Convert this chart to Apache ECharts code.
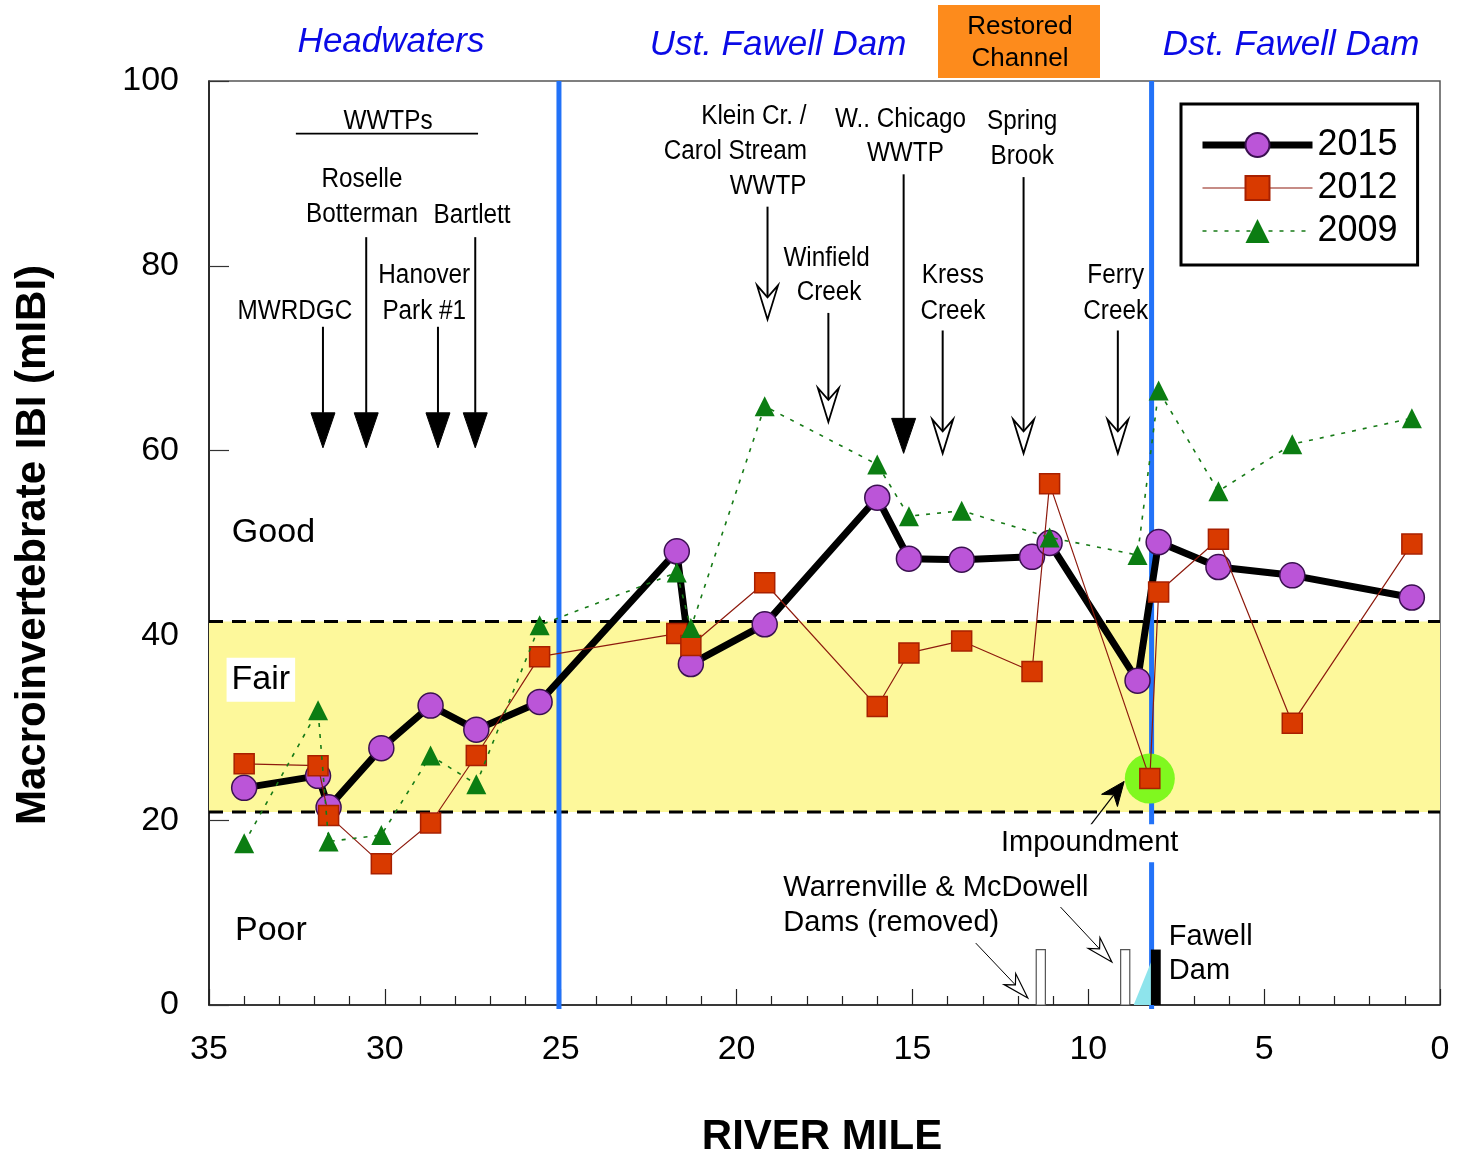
<!DOCTYPE html>
<html>
<head>
<meta charset="utf-8">
<script src="https://cdn.jsdelivr.net/npm/echarts@6/dist/echarts.min.js"></script>
<style>
  html, body { margin: 0; padding: 0; background: #fff; }
  #chart { width: 1458px; height: 1156px; }
</style>
</head>
<body>
<div id="chart"></div>
<script>
// ---- Sampling results: river mile and macroinvertebrate IBI per survey year ----
const miles2015 = [34.0, 31.9, 31.6, 30.1, 28.7, 27.4, 25.6, 21.7, 21.3, 19.2, 16.0, 15.1, 13.6, 11.6, 11.1, 8.6, 8.0, 6.3, 4.2, 0.8];
const ibi2015   = [23.5, 24.8, 21.4, 27.8, 32.4, 29.8, 32.8, 49.1, 36.9, 41.2, 54.9, 48.3, 48.2, 48.5, 50.0, 35.1, 50.1, 47.4, 46.5, 44.1];

const miles2012 = [34.0, 31.9, 31.6, 30.1, 28.7, 27.4, 25.6, 21.7, 21.3, 19.2, 16.0, 15.1, 13.6, 11.6, 11.1, 8.25, 8.0, 6.3, 4.2, 0.8];
const ibi2012   = [26.1, 25.9, 20.5, 15.3, 19.7, 27.0, 37.7, 40.2, 38.9, 45.7, 32.3, 38.1, 39.4, 36.1, 56.4, 24.5, 44.7, 50.4, 30.5, 49.9];

const miles2009 = [34.0, 31.9, 31.6, 30.1, 28.7, 27.4, 25.6, 21.7, 21.3, 19.2, 16.0, 15.1, 13.6, 11.1, 8.6, 8.0, 6.3, 4.2, 0.8];
const ibi2009   = [17.5, 31.9, 17.7, 18.4, 27.0, 23.9, 41.1, 46.8, 40.8, 64.8, 58.5, 52.9, 53.5, 50.6, 48.7, 66.5, 55.6, 60.7, 63.5];

const seriesNames = ['2015', '2012', '2009'];

// Narrative thresholds: Poor < 20.9 <= Fair < 41.5 <= Good
const fairBand = [20.9, 41.5];
const narrativeLabels = ['Good', 'Fair', 'Poor'];

// Reach boundaries (river mile): Headwaters | Ust. Fawell Dam | Dst. Fawell Dam
const reachBreaks = [25.05, 8.2];
const reachNames = ['Headwaters', 'Ust. Fawell Dam', 'Dst. Fawell Dam'];

// Dams (river mile)
const removedDams = [11.35, 8.95];
const fawellDamMile = 8.08;
const impoundmentSite = [8.25, 24.5];

// Axis ticks
const xTicks = { min: 0, max: 35, step: 5 };
const yTicks = { min: 0, max: 100, step: 20 };

// Inflows: [river mile, label bottom, arrow tip (IBI units), filled = WWTP outfall]
const inflowArrows = [
  [31.76, 73.4, 60.3, true],
  [30.53, 83.1, 60.3, true],
  [28.49, 73.4, 60.3, true],
  [27.43, 83.1, 60.3, true],
  [19.12, 86.4, 74.2, false],
  [17.39, 74.9, 63.1, false],
  [15.25, 89.9, 59.7, true],
  [14.14, 73.0, 59.7, false],
  [11.84, 89.6, 59.7, false],
  [9.16, 73.0, 59.7, false]
];

// Inflow names: [text, river mile, IBI, alignment]
const inflowLabels = [
  ['WWTPs', 29.91, 95.6, 'center'],
  ['Roselle', 30.65, 89.3, 'center'],
  ['Botterman', 30.65, 85.6, 'center'],
  ['Bartlett', 27.52, 85.4, 'center'],
  ['Hanover', 28.88, 78.9, 'center'],
  ['Park #1', 28.88, 75.1, 'center'],
  ['MWRDGC', 32.56, 75.0, 'center'],
  ['Klein Cr. /', 18.01, 96.2, 'right'],
  ['Carol Stream', 18.0, 92.4, 'right'],
  ['WWTP', 18.01, 88.6, 'right'],
  ['Winfield', 17.44, 80.8, 'center'],
  ['Creek', 17.37, 77.1, 'center'],
  ['W.. Chicago', 15.34, 95.8, 'center'],
  ['WWTP', 15.2, 92.1, 'center'],
  ['Kress', 13.85, 78.9, 'center'],
  ['Creek', 13.85, 75.1, 'center'],
  ['Spring', 11.88, 95.6, 'center'],
  ['Brook', 11.88, 91.8, 'center'],
  ['Ferry', 9.22, 78.9, 'center'],
  ['Creek', 9.22, 75.1, 'center']
];

const FONT = '"Liberation Sans", Arial, Helvetica, sans-serif';
const font = (size, extra) => (extra ? extra + ' ' : '') + size + 'px ' + FONT;

const pairs = (xs, ys) => xs.map((x, i) => [x, ys[i]]);

function textEl(p, text, size, align, opts) {
  opts = opts || {};
  const style = {
    text: text, font: font(size, opts.weight), fill: opts.fill || '#000',
    align: align, verticalAlign: 'middle', textAlign: align, textVerticalAlign: 'middle'
  };
  if (opts.bg) { style.backgroundColor = opts.bg; style.padding = opts.pad; }
  return { type: 'text', x: p[0], y: p[1], scaleX: opts.scaleX || 1, z2: opts.z2 || 20, style: style };
}

// Arrow from p0 to tip p1; head length, half width, notch depth in pixels
function arrowEls(p0, p1, len, halfW, notch, filled, shaftW, headW) {
  const dx = p1[0] - p0[0], dy = p1[1] - p0[1];
  const L = Math.hypot(dx, dy), ux = dx / L, uy = dy / L, nx = -uy, ny = ux;
  const bx = p1[0] - ux * len, by = p1[1] - uy * len;
  const nxp = p1[0] - ux * (len - notch), nyp = p1[1] - uy * (len - notch);
  return [
    { type: 'line', z2: 15, shape: { x1: p0[0], y1: p0[1], x2: nxp, y2: nyp },
      style: { stroke: '#000', lineWidth: shaftW } },
    { type: 'polygon', z2: 16,
      shape: { points: [[p1[0], p1[1]], [bx + nx * halfW, by + ny * halfW], [nxp, nyp], [bx - nx * halfW, by - ny * halfW]] },
      style: { fill: filled ? '#000' : '#fff', stroke: '#000', lineWidth: headW, lineJoin: 'miter' } }
  ];
}

function renderOverlay(params, api) {
  const c = (m, v) => api.coord([m, v]);
  const kids = [];

  // Fair band and threshold lines
  const tl = c(xTicks.max, fairBand[1]), br = c(xTicks.min, fairBand[0]);
  kids.push({ type: 'rect', z2: 1, shape: { x: tl[0], y: tl[1], width: br[0] - tl[0], height: br[1] - tl[1] },
    style: { fill: '#fdf89b' } });
  fairBand.forEach(v => {
    const a = c(xTicks.max, v), b = c(xTicks.min, v);
    kids.push({ type: 'line', z2: 3, shape: { x1: a[0], y1: a[1], x2: b[0], y2: b[1] },
      style: { stroke: '#000', lineWidth: 3, lineDash: [14, 9] } });
  });

  // Reach boundaries
  reachBreaks.forEach(m => {
    const a = c(m, yTicks.max), b = c(m, yTicks.min);
    kids.push({ type: 'line', z2: 5, shape: { x1: a[0], y1: a[1], x2: b[0], y2: b[1] + 4 },
      style: { stroke: '#2272f8', lineWidth: 5 } });
  });

  // Fawell Dam impoundment wedge and dam
  kids.push({ type: 'polygon', z2: 6, shape: { points: [c(8.71, 0), c(8.2, 0), c(8.2, 4.8)] },
    style: { fill: '#8ee4ec' } });
  const d0 = c(fawellDamMile + 0.14, 6), d1 = c(fawellDamMile - 0.14, 0);
  kids.push({ type: 'rect', z2: 7, shape: { x: d0[0], y: d0[1], width: d1[0] - d0[0], height: d1[1] - d0[1] },
    style: { fill: '#000' } });

  // Removed dams
  removedDams.forEach(m => {
    const r0 = c(m + 0.13, 6), r1 = c(m - 0.13, 0);
    kids.push({ type: 'rect', z2: 7, shape: { x: r0[0], y: r0[1], width: r1[0] - r0[0], height: r1[1] - r0[1] },
      style: { fill: '#fff', stroke: '#555', lineWidth: 1.2 } });
  });

  // Impoundment highlight
  const hp = c(impoundmentSite[0], impoundmentSite[1]);
  kids.push({ type: 'circle', z2: 8, shape: { cx: hp[0], cy: hp[1], r: 25 }, style: { fill: '#80f81f' } });

  // Inflow arrows
  inflowArrows.forEach(a => {
    const p0 = c(a[0], a[1]), p1 = c(a[0], a[2]);
    const els = a[3] ? arrowEls(p0, p1, 35, 12, 0, true, 2, 1) : arrowEls(p0, p1, 34, 10.5, 12, false, 2, 1.8);
    els.forEach(e => kids.push(e));
  });

  // WWTP heading underline
  const u0 = c(32.53, 94.3), u1 = c(27.35, 94.3);
  kids.push({ type: 'line', z2: 15, shape: { x1: u0[0], y1: u0[1], x2: u1[0], y2: u1[1] },
    style: { stroke: '#000', lineWidth: 1.8 } });

  inflowLabels.forEach(l => {
    kids.push(textEl(c(l[1], l[2]), l[0], 27, l[3], { scaleX: 0.9 }));
  });

  // Removed-dam pointers and impoundment pointer
  arrowEls(c(13.2, 6.7), c(11.72, 0.76), 26, 8, 8, false, 1, 1.2).forEach(e => kids.push(e));
  arrowEls(c(10.79, 10.6), c(9.33, 4.65), 26, 8, 8, false, 1, 1.2).forEach(e => kids.push(e));
  arrowEls(c(9.93, 19.5), c(8.98, 24.2), 24, 10, 7, true, 1.2, 1).forEach(e => kids.push(e));

  // Narrative labels
  kids.push(textEl(c(34.35, 51.1), narrativeLabels[0], 34, 'left'));
  kids.push(textEl(c(34.5, 35.2), narrativeLabels[1], 34, 'left', { bg: '#fff', pad: [6, 5, 4, 5] }));
  kids.push(textEl(c(34.26, 8.0), narrativeLabels[2], 34, 'left'));

  // Dam notes
  kids.push(textEl(c(9.96, 17.5), 'Impoundment', 29, 'center', { bg: '#fff', pad: [5, 4, 4, 4], z2: 30 }));
  kids.push(textEl(c(18.67, 12.7), 'Warrenville & McDowell', 29, 'left'));
  kids.push(textEl(c(18.67, 8.9), 'Dams (removed)', 29, 'left'));
  kids.push(textEl(c(7.71, 7.4), 'Fawell', 29, 'left'));
  kids.push(textEl(c(7.71, 3.7), 'Dam', 29, 'left'));

  return { type: 'group', children: kids };
}

const chart = echarts.init(document.getElementById('chart'), null, { renderer: 'canvas' });

const centered = { align: 'center', verticalAlign: 'middle', textAlign: 'center', textVerticalAlign: 'middle' };

const option = {
  animation: false,
  backgroundColor: '#fff',
  textStyle: { fontFamily: FONT },
  grid: {
    left: 209, right: 18, top: 81, bottom: 151,
    show: true, borderColor: '#555', borderWidth: 1.5,
    containLabel: false, outerBoundsMode: 'none'
  },
  xAxis: {
    type: 'value', min: xTicks.min, max: xTicks.max, interval: xTicks.step, inverse: true,
    axisLine: { show: true, onZero: false, lineStyle: { color: '#222', width: 1.5 } },
    axisTick: { show: true, inside: true, length: 16, lineStyle: { color: '#222', width: 1.2 } },
    minorTick: { show: true, splitNumber: 5, length: 9, lineStyle: { color: '#222', width: 1.2 } },
    axisLabel: { fontSize: 34, color: '#000', margin: 28, fontFamily: FONT },
    splitLine: { show: false }, minorSplitLine: { show: false }
  },
  yAxis: {
    type: 'value', min: yTicks.min, max: yTicks.max, interval: yTicks.step,
    axisLine: { show: true, onZero: false, lineStyle: { color: '#111', width: 1.5 } },
    axisTick: { show: true, inside: true, length: 20, lineStyle: { color: '#333', width: 1.2 } },
    axisLabel: { fontSize: 34, color: '#000', margin: 30, fontFamily: FONT },
    splitLine: { show: false }
  },
  legend: {
    orient: 'vertical', left: 1181, top: 104,
    data: seriesNames, selectedMode: false,
    itemWidth: 110, itemHeight: 30, itemGap: 7,
    padding: [23, 20, 16, 18],
    borderColor: '#000', borderWidth: 3, backgroundColor: '#fff',
    lineStyle: { width: 'inherit' },
    textStyle: { fontSize: 36, color: '#000', fontFamily: FONT, lineHeight: 30, height: 30 }
  },
  graphic: [
    { type: 'text', x: 391, y: 42, style: Object.assign({ text: reachNames[0], font: font(35, 'italic'), fill: '#0a0ae6' }, centered) },
    { type: 'text', x: 778, y: 45, style: Object.assign({ text: reachNames[1], font: font(35, 'italic'), fill: '#0a0ae6' }, centered) },
    { type: 'text', x: 1291, y: 45, style: Object.assign({ text: reachNames[2], font: font(35, 'italic'), fill: '#0a0ae6' }, centered) },
    { type: 'rect', shape: { x: 938, y: 5, width: 162, height: 73 }, style: { fill: '#fd8b1c' } },
    { type: 'text', x: 1020, y: 27, style: Object.assign({ text: 'Restored', font: font(26), fill: '#000' }, centered) },
    { type: 'text', x: 1020, y: 59, style: Object.assign({ text: 'Channel', font: font(26), fill: '#000' }, centered) },
    { type: 'text', x: 33, y: 545, rotation: Math.PI / 2, style: Object.assign({ text: 'Macroinvertebrate IBI (mIBI)', font: font(42, 'bold'), fill: '#000' }, centered) },
    { type: 'text', x: 822, y: 1137, style: Object.assign({ text: 'RIVER MILE', font: font(42, 'bold'), fill: '#000' }, centered) }
  ],
  series: [
    {
      name: 'overlay', type: 'custom', silent: true, clip: false, z: 1,
      data: [[0, 0]], renderItem: renderOverlay
    },
    {
      name: seriesNames[0], type: 'line', z: 3,
      data: pairs(miles2015, ibi2015),
      symbol: 'circle', symbolSize: 25,
      lineStyle: { color: '#000', width: 7 },
      itemStyle: { color: '#bb55d8', borderColor: '#3a1050', borderWidth: 1.5 }
    },
    {
      name: seriesNames[1], type: 'line', z: 4,
      data: pairs(miles2012, ibi2012),
      symbol: 'rect', symbolSize: 20,
      lineStyle: { color: '#8e1b0e', width: 1.2 },
      itemStyle: { color: '#d93a00', borderColor: '#a82000', borderWidth: 1.5 }
    },
    {
      name: seriesNames[2], type: 'line', z: 5,
      data: pairs(miles2009, ibi2009),
      symbol: 'triangle', symbolSize: 20,
      lineStyle: { color: '#167a16', width: 1.6, type: [4, 7] },
      itemStyle: { color: '#0b7d12' }
    }
  ]
};

chart.setOption(option);
</script>
</body>
</html>
